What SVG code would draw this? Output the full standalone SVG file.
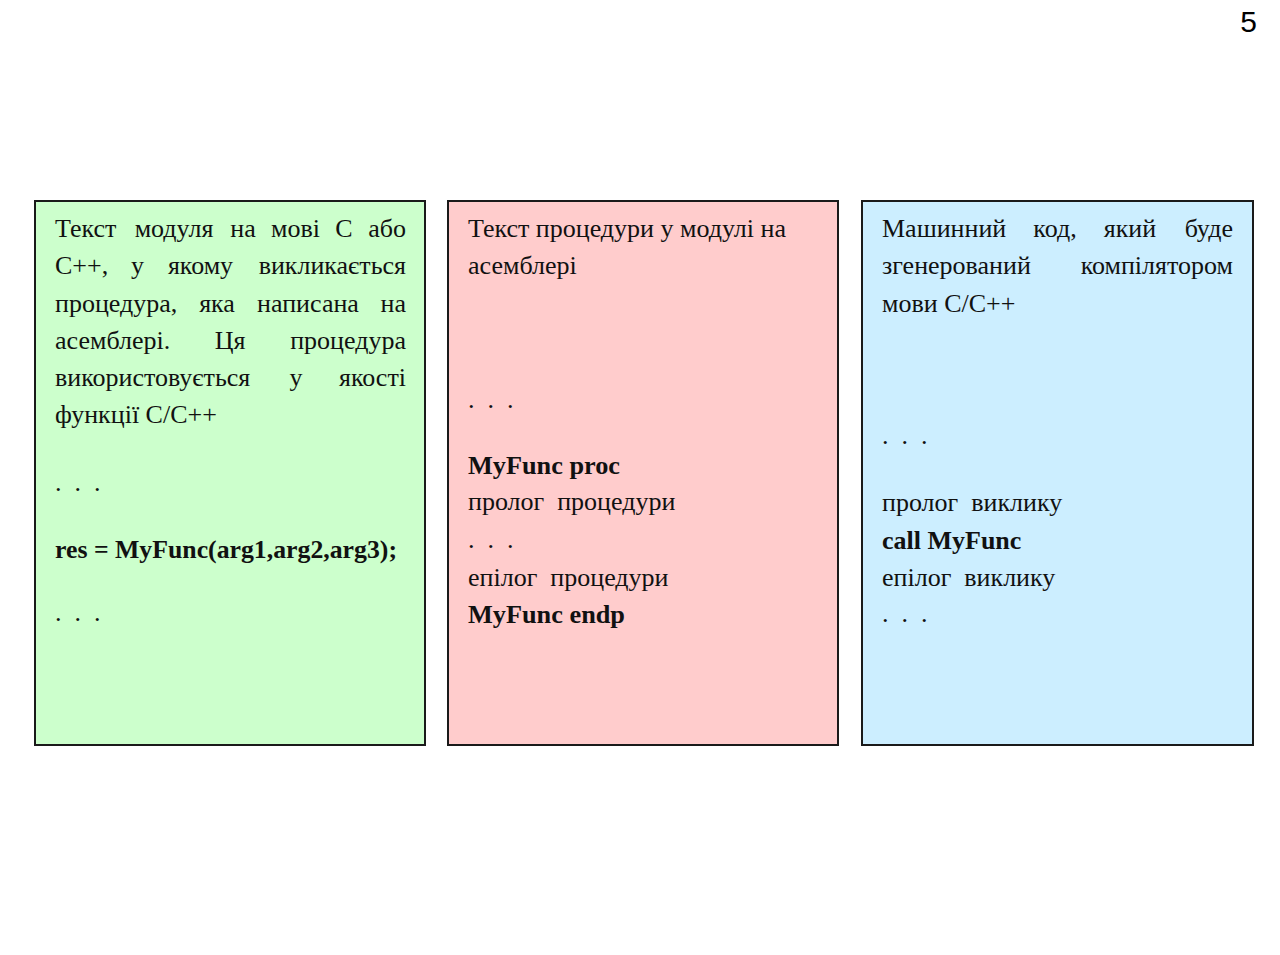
<svg xmlns="http://www.w3.org/2000/svg" width="1280" height="955" viewBox="0 0 1280 955">
<style>
.box{stroke:#1a1a1a;stroke-width:2}
.t{font-family:"Liberation Serif","Times New Roman",serif;font-size:26px;fill:#111}
.b{font-weight:bold}
.m{text-anchor:middle}
.e{text-anchor:end}
.num{font-family:"Liberation Sans",Arial,sans-serif;font-size:30px;fill:#000;text-anchor:end}
</style>
<rect width="1280" height="955" fill="#fff"/>
<text class="num" x="1257" y="32">5</text>
<g id="left">
<rect class="box" x="35" y="201" width="390" height="544" fill="#ccffcc"/>
<text class="t" y="237"><tspan x="55">Текст</tspan><tspan class="m" x="174">модуля</tspan><tspan class="m" x="243">на</tspan><tspan class="m" x="295.5">мові</tspan><tspan class="m" x="344">С</tspan><tspan class="e" x="406">або</tspan></text>
<text class="t" y="274"><tspan x="55">С++,</tspan><tspan class="m" x="137.5">у</tspan><tspan class="m" x="200.5">якому</tspan><tspan class="e" x="406">викликається</tspan></text>
<text class="t" y="312"><tspan x="55">процедура,</tspan><tspan class="m" x="217">яка</tspan><tspan class="m" x="308">написана</tspan><tspan class="e" x="406">на</tspan></text>
<text class="t" y="349"><tspan x="55">асемблері.</tspan><tspan class="m" x="230">Ця</tspan><tspan class="e" x="406">процедура</tspan></text>
<text class="t" y="386"><tspan x="55">використовується</tspan><tspan class="m" x="296">у</tspan><tspan class="e" x="406">якості</tspan></text>
<text class="t" x="55" y="423">функції С/С++</text>
<text class="t" x="55" y="491" xml:space="preserve">.  .  .</text>
<text class="t b" x="55" y="558" textLength="342" lengthAdjust="spacingAndGlyphs">res = MyFunc(arg1,arg2,arg3);</text>
<text class="t" x="55" y="621" xml:space="preserve">.  .  .</text>
</g>
<g id="middle">
<rect class="box" x="448" y="201" width="390" height="544" fill="#ffcccc"/>
<text class="t" x="468" y="237" textLength="318" lengthAdjust="spacingAndGlyphs">Текст процедури у модулі на</text>
<text class="t" x="468" y="274">асемблері</text>
<text class="t" x="468" y="408" xml:space="preserve">.  .  .</text>
<text class="t b" x="468" y="474" textLength="152" lengthAdjust="spacingAndGlyphs">MyFunc proc</text>
<text class="t" x="468" y="510" xml:space="preserve">пролог  процедури</text>
<text class="t" x="468" y="548" xml:space="preserve">.  .  .</text>
<text class="t" x="468" y="586" xml:space="preserve">епілог  процедури</text>
<text class="t b" x="468" y="623" textLength="157" lengthAdjust="spacingAndGlyphs">MyFunc endp</text>
</g>
<g id="right">
<rect class="box" x="862" y="201" width="391" height="544" fill="#cceeff"/>
<text class="t" y="237"><tspan x="882">Машинний</tspan><tspan class="m" x="1055">код,</tspan><tspan class="m" x="1130">який</tspan><tspan class="e" x="1233">буде</tspan></text>
<text class="t" y="274"><tspan x="882">згенерований</tspan><tspan class="e" x="1233">компілятором</tspan></text>
<text class="t" x="882" y="312">мови С/С++</text>
<text class="t" x="882" y="444" xml:space="preserve">.  .  .</text>
<text class="t" x="882" y="511" xml:space="preserve">пролог  виклику</text>
<text class="t b" x="882" y="549">call MyFunc</text>
<text class="t" x="882" y="586" xml:space="preserve">епілог  виклику</text>
<text class="t" x="882" y="622" xml:space="preserve">.  .  .</text>
</g>
<g id="connectors"/>
</svg>
